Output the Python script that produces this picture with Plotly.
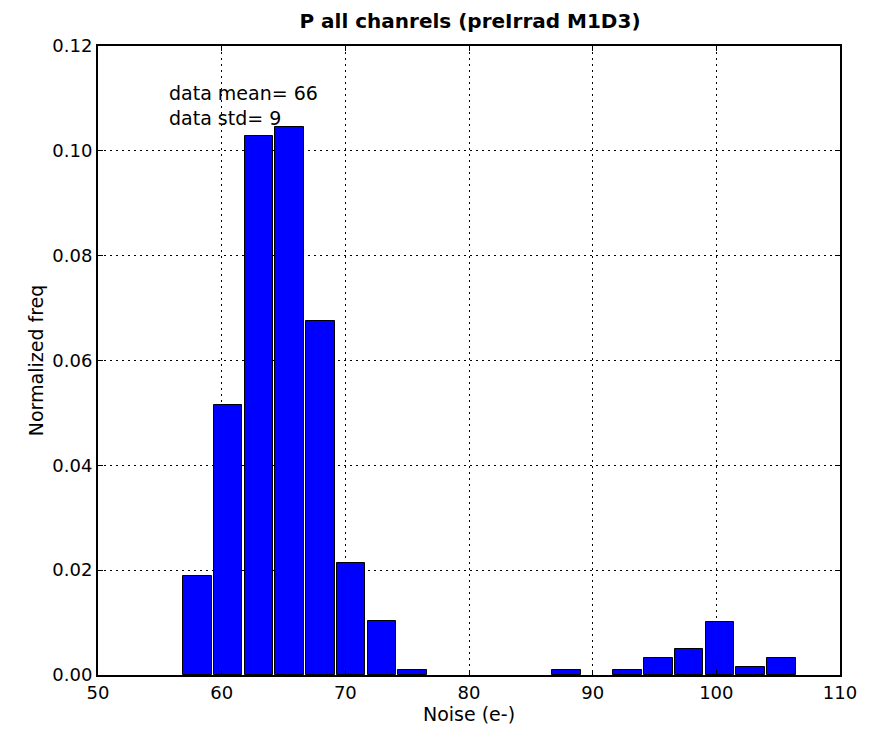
import plotly.graph_objects as go

# Histogram bins (left edges) and normalized frequencies
bin_start = 56.8
bin_width = 2.485
bin_index = [0, 1, 2, 3, 4, 5, 6, 7, 12, 14, 15, 16, 17, 18, 19]
norm_freq = [0.0189, 0.0516, 0.1029, 0.1046, 0.0675, 0.0213, 0.0103, 0.0010,
             0.0010, 0.0010, 0.00325, 0.0050, 0.0102, 0.0015, 0.00325]

x_ticks = [50, 60, 70, 80, 90, 100, 110]
y_ticks = [0.00, 0.02, 0.04, 0.06, 0.08, 0.10, 0.12]

centers = [bin_start + (i + 0.5) * bin_width for i in bin_index]

fig = go.Figure()
fig.add_trace(go.Bar(
    x=centers, y=norm_freq, width=bin_width * 0.93,
    marker=dict(color="#0000ff", line=dict(color="black", width=1)),
    showlegend=False,
))

fig.add_annotation(x=55.6, y=0.1135, xref="x", yref="y", xanchor="left", yanchor="top",
                   text="data mean= 66<br>data std= 9", showarrow=False, align="left",
                   font=dict(family="DejaVu Sans", size=19, color="black"))

axis_common = dict(
    showline=True, linecolor="black", linewidth=2, mirror="ticks",
    ticks="inside", ticklen=5, tickcolor="black",
    showgrid=True, gridcolor="black", gridwidth=1, griddash="2px,4px",
    zeroline=False,
    tickfont=dict(family="DejaVu Sans", size=18, color="black"),
)

fig.update_layout(
    width=869, height=732,
    margin=dict(l=98, r=27, t=46, b=57),
    paper_bgcolor="white", plot_bgcolor="white",
    title=dict(text="<b>P all chanrels (preIrrad M1D3)</b>", x=470 / 869,
               xanchor="center", y=1 - 21 / 732, yanchor="middle",
               font=dict(family="DejaVu Sans", size=20, color="black")),
    xaxis=dict(range=[50, 110], tickvals=x_ticks, ticktext=[str(v) for v in x_ticks],
               title=dict(text="Noise (e-)", font=dict(family="DejaVu Sans", size=19, color="black"),
                          standoff=2),
               **axis_common),
    yaxis=dict(range=[0, 0.12], tickvals=y_ticks, ticktext=[f"{v:.2f}" for v in y_ticks],
               title=dict(text="Normalized freq", font=dict(family="DejaVu Sans", size=19, color="black"),
                          standoff=4),
               **axis_common),
    bargap=0,
)

fig.write_html("out.html")
